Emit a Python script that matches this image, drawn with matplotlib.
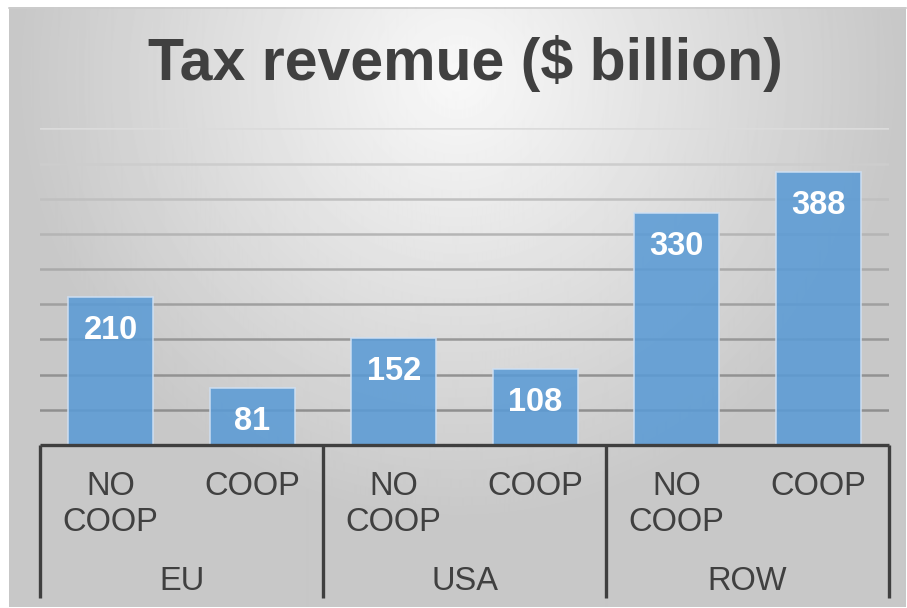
import numpy as np
import matplotlib.pyplot as plt
from matplotlib.lines import Line2D

regions = ["EU", "USA", "ROW"]
scenarios = ["NO\nCOOP", "COOP"]
revenue = [210, 81, 152, 108, 330, 388]

W, H = 907, 608
fig = plt.figure(figsize=(W / 100, H / 100), dpi=100)
fig.patch.set_facecolor("white")

def fx(px):
    return px / W

def fy(py):
    return 1 - py / H

# soft radial backdrop
bg = fig.add_axes([fx(9), fy(607), fx(906) - fx(9), fy(7) - fy(607)], zorder=0)
yy, xx = np.mgrid[0:600, 0:900]
d = np.sqrt(((xx - 450) / 600.0) ** 2 + ((yy - 70) / 600.0) ** 2)
shade = np.clip(0.975 - 0.26 * d, 0.785, 1.0)
bg.imshow(shade, cmap="gray", vmin=0, vmax=1, aspect="auto", interpolation="bilinear")
bg.set_axis_off()
fig.add_artist(Line2D([fx(9), fx(906)], [fy(7.5), fy(7.5)], color="#CCCCCC", lw=1.2))

# bars
ax = fig.add_axes([fx(40), fy(445), fx(889) - fx(40), fy(128.4) - fy(445)], zorder=1)
ax.patch.set_alpha(0)
x = np.arange(len(revenue))
ax.set_xlim(-0.5, len(revenue) - 0.5)
ax.set_ylim(0, 450)
for v in range(50, 451, 50):
    # grid fades toward the top of the plot
    t = (v - 50) / 400
    g = 0.56 + 0.30 * t ** 1.5
    ax.axhline(v, color=(g, g, g), lw=1.8, zorder=1)
bars = ax.bar(x, revenue, width=0.6, color="#5B9BD5", alpha=0.88,
              edgecolor="#CFE0F3", linewidth=1.2, zorder=2)
for xi, v in zip(x, revenue):
    ax.annotate(str(v), (xi, v), xytext=(0, -24), textcoords="offset points",
                ha="center", va="center", color="white", fontsize=23.5,
                fontweight="bold", family="Liberation Sans", zorder=3)
ax.set_axis_off()

# two-level category axis
cat = fig.add_axes([fx(40), fy(598), fx(889) - fx(40), fy(445) - fy(598)], zorder=1)
cat.patch.set_alpha(0)
cat.set_xlim(-0.5, len(revenue) - 0.5)
cat.set_ylim(0, 153)
cat.set_axis_off()
cat.plot([-0.5, len(revenue) - 0.5], [153, 153], color="#3F3F3F", lw=2.4,
         clip_on=False, solid_capstyle="butt")
for b in [-0.5, 1.5, 3.5, 5.5]:
    cat.plot([b, b], [0, 153], color="#3F3F3F", lw=2.4, clip_on=False,
             solid_capstyle="butt")
for i in range(len(revenue)):
    cat.text(i, 153 - 26, scenarios[i % 2], ha="center", va="top",
             fontsize=23.5, color="#404040", family="Liberation Sans",
             linespacing=1.2)
for j, r in enumerate(regions):
    cat.text(2 * j + 0.5, 153 - 136, r, ha="center", va="center",
             fontsize=23.5, color="#404040", family="Liberation Sans")

fig.text(fx(465), fy(63), "Tax revemue ($ billion)", ha="center", va="center",
         fontsize=42.5, fontweight="bold", color="#404040", family="Liberation Sans")

fig.savefig("out.png", dpi=100)
